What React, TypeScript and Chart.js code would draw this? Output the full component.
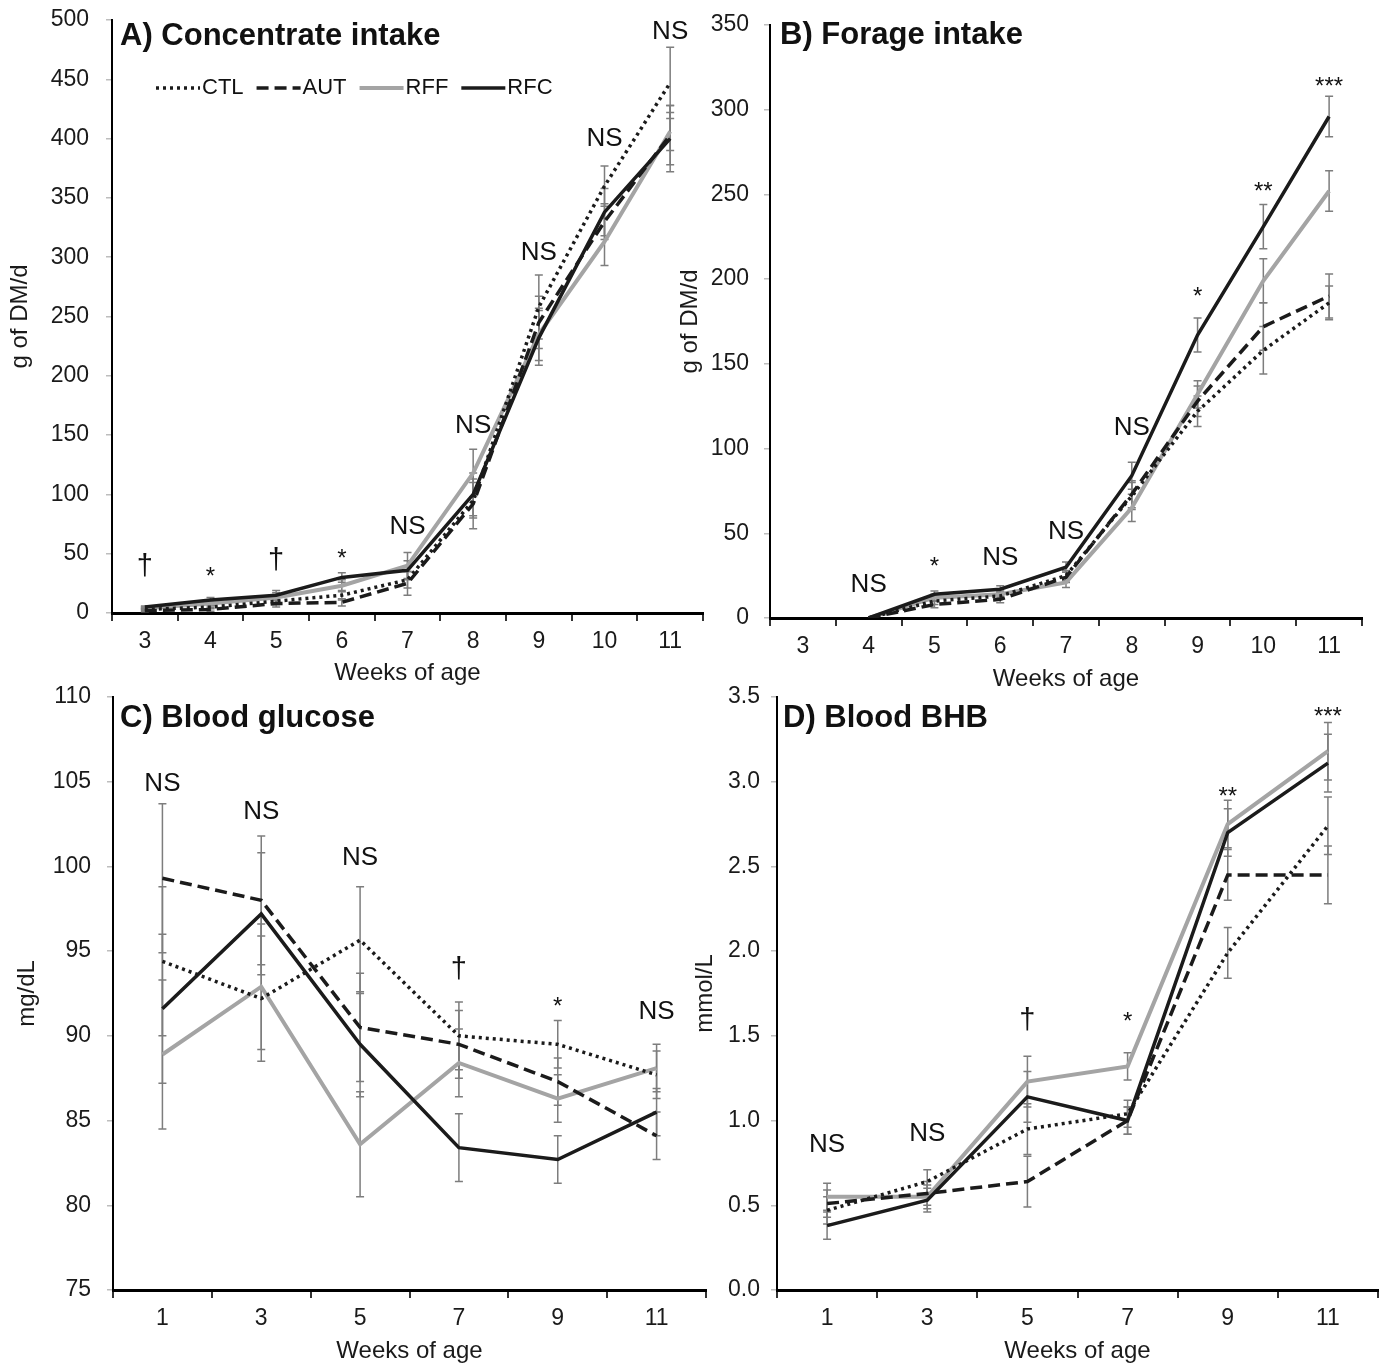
import React, { useEffect, useRef } from 'react';
import { Chart, registerables } from 'chart.js';
Chart.register(...registerables);

const FONT = '"Liberation Sans", Arial, Helvetica, sans-serif';
const seriesNames = ['CTL', 'AUT', 'RFF', 'RFC'];

// ---------- Panel A: Concentrate intake (g of DM/d) ----------
const weeksA = ['3', '4', '5', '6', '7', '8', '9', '10', '11'];
const concCTL = [3, 5, 10, 15, 28, 95, 258, 360, 447];
const concAUT = [2, 3, 8, 9, 25, 92, 245, 330, 403];
const concRFF = [4, 8, 13, 23, 40, 118, 235, 313, 406];
const concRFC = [5, 11, 15, 30, 36, 100, 232, 338, 400];
const concSeCTL = [1, 1.5, 3, 4, 7, 15, 27, 17, 30];
const concSeAUT = [1, 1.5, 3, 3, 10, 21, 22, 15, 25];
const concSeRFF = [1, 2, 4, 5, 11, 20, 22, 20, 16];
const concSeRFC = [1, 2, 4, 4, 8, 18, 23, 20, 28];
const sigA = ['†', '*', '†', '*', 'NS', 'NS', 'NS', 'NS', 'NS'];
const sigAy = [39, 30, 44, 45.5, 72.5, 158, 304, 400, 490];

// ---------- Panel B: Forage intake (g of DM/d) ----------
const weeksB = ['3', '4', '5', '6', '7', '8', '9', '10', '11'];
const forCTL = [null, 0, 10, 13, 25, 72, 122, 158, 186];
const forAUT = [null, 0, 8, 11, 24, 73, 128, 172, 190];
const forRFF = [null, 0, 12, 14, 21, 65, 132, 199, 252];
const forRFC = [null, 0, 14, 17, 30, 84, 167, 231, 296];
const forSeCTL = [0, 0, 2, 2, 3, 8, 9, 14, 10];
const forSeAUT = [0, 0, 2, 2, 3, 8, 9, 14, 13];
const forSeRFF = [0, 0, 2, 2, 3, 8, 8, 13, 12];
const forSeRFC = [0, 0, 2, 2, 3, 8, 10, 13, 12];
const sigB = ['', 'NS', '*', 'NS', 'NS', 'NS', '*', '**', '***'];
const sigBy = [0, 19.5, 30, 35.4, 50.8, 112, 189.5, 251, 313];

// ---------- Panel C: Blood glucose (mg/dL) ----------
const weeksC = ['1', '3', '5', '7', '9', '11'];
const gluCTL = [94.4, 92.2, 95.65, 90.0, 89.5, 87.7];
const gluAUT = [99.3, 98.0, 90.5, 89.5, 87.3, 84.1];
const gluRFF = [88.9, 92.9, 83.6, 88.4, 86.3, 88.1];
const gluRFC = [91.6, 97.2, 89.5, 83.4, 82.7, 85.5];
const gluSeCTL = [4.4, 3.7, 3.15, 2.0, 1.4, 1.4];
const gluSeAUT = [4.4, 3.8, 3.2, 2.0, 1.4, 1.4];
const gluSeRFF = [4.4, 3.7, 3.1, 2.0, 1.4, 1.4];
const gluSeRFC = [4.4, 3.6, 3.1, 2.0, 1.4, 1.4];
const sigC = ['NS', 'NS', 'NS', '†', '*', 'NS'];
const sigCy = [104.87, 103.2, 100.5, 93.9, 91.7, 91.4];

// ---------- Panel D: Blood BHB (mmol/L) ----------
const weeksD = ['1', '3', '5', '7', '9', '11'];
const bhbCTL = [0.47, 0.64, 0.95, 1.04, 1.99, 2.74];
const bhbAUT = [0.51, 0.57, 0.64, 1.0, 2.45, 2.45];
const bhbRFF = [0.55, 0.55, 1.23, 1.32, 2.75, 3.18];
const bhbRFC = [0.38, 0.53, 1.14, 1.0, 2.7, 3.11];
const bhbSeCTL = [0.08, 0.07, 0.15, 0.08, 0.15, 0.17];
const bhbSeAUT = [0.08, 0.07, 0.15, 0.08, 0.15, 0.17];
const bhbSeRFF = [0.08, 0.07, 0.15, 0.08, 0.14, 0.17];
const bhbSeRFC = [0.08, 0.07, 0.15, 0.08, 0.14, 0.17];
const sigD = ['NS', 'NS', '†', '*', '**', '***'];
const sigDy = [0.856, 0.92, 1.59, 1.58, 2.91, 3.38];

const BLACK = '#1b1b1b';
const GRAY = '#a4a4a4';
const seriesStyles = [
  { borderColor: BLACK, borderWidth: 3.5, borderDash: [3, 4], order: 2 },
  { borderColor: BLACK, borderWidth: 3.5, borderDash: [12, 6], order: 1 },
  { borderColor: GRAY, borderWidth: 4, borderDash: [], order: 3 },
  { borderColor: BLACK, borderWidth: 3.5, borderDash: [], order: 0 },
];

type Spec = {
  box: { x: number; y: number; w: number; h: number };
  area: { l: number; t: number; r: number; b: number };
  labels: string[];
  series: (number | null)[][];
  errors: number[][];
  sig: string[];
  sigY: number[];
  min: number; max: number; step: number; decimals: number;
  yTitle: string; yTitlePad: number; yTickPad: number;
  tickSize: number; xTickPad: number; xTitlePad: number;
  title: string; titleDx: number; titleDy: number;
  legend: boolean;
};

function makeOverlay(spec: Spec) {
  return {
    id: 'overlay',
    beforeDatasetsDraw(chart: any) {
      const { ctx, scales } = chart;
      const x = scales.x, y = scales.y;
      ctx.save();
      ctx.strokeStyle = '#7d7d7d';
      ctx.lineWidth = 1.5;
      spec.series.forEach((s, i) => {
        const err = spec.errors[i];
        s.forEach((v, j) => {
          if (v == null || !err[j]) return;
          const px = x.getPixelForValue(j);
          const t = y.getPixelForValue(v + err[j]);
          const b = y.getPixelForValue(v - err[j]);
          ctx.beginPath();
          ctx.moveTo(px, t); ctx.lineTo(px, b);
          ctx.moveTo(px - 4, t); ctx.lineTo(px + 4, t);
          ctx.moveTo(px - 4, b); ctx.lineTo(px + 4, b);
          ctx.stroke();
        });
      });
      ctx.restore();
    },
    afterDatasetsDraw(chart: any) {
      const { ctx, scales, chartArea } = chart;
      const x = scales.x, y = scales.y;
      ctx.save();
      ctx.fillStyle = '#111';
      ctx.textAlign = 'center';
      ctx.textBaseline = 'middle';
      spec.sig.forEach((lab, j) => {
        if (!lab) return;
        const px = x.getPixelForValue(j);
        const py = y.getPixelForValue(spec.sigY[j]);
        let size = 26;
        if (lab === '†') size = 29;
        else if (lab.startsWith('*')) size = 24;
        ctx.font = `${size}px ${FONT}`;
        ctx.fillText(lab, px, py);
      });
      // panel title
      ctx.textAlign = 'left';
      ctx.font = `bold 31px ${FONT}`;
      ctx.fillText(spec.title, chartArea.left + spec.titleDx, chartArea.top + spec.titleDy);
      // legend
      if (spec.legend) {
        const ly = chartArea.top + 68;
        let lx = chartArea.left + 44;
        ctx.font = `22px ${FONT}`;
        seriesNames.forEach((name, i) => {
          const st = seriesStyles[i];
          ctx.save();
          ctx.strokeStyle = st.borderColor;
          ctx.lineWidth = st.borderWidth;
          ctx.setLineDash(st.borderDash);
          ctx.beginPath();
          ctx.moveTo(lx, ly); ctx.lineTo(lx + 44, ly);
          ctx.stroke();
          ctx.restore();
          lx += 46;
          ctx.fillText(name, lx, ly);
          lx += ctx.measureText(name).width + 13;
        });
      }
      ctx.restore();
    },
  };
}

function buildConfig(spec: Spec): any {
  const { box, area } = spec;
  return {
    type: 'line',
    data: {
      labels: spec.labels,
      datasets: spec.series.map((s, i) => ({
        label: seriesNames[i],
        data: s,
        fill: false,
        pointRadius: 0,
        tension: 0,
        ...seriesStyles[i],
      })),
    },
    options: {
      responsive: false,
      animation: false,
      devicePixelRatio: 1,
      layout: { padding: { left: 0, top: area.t - box.y, right: box.x + box.w - area.r, bottom: 0 } },
      plugins: { legend: { display: false }, tooltip: { enabled: false }, title: { display: false } },
      scales: {
        x: {
          type: 'category',
          offset: true,
          grid: { offset: true, drawOnChartArea: false, drawTicks: true, tickLength: 8, color: '#333', lineWidth: 2 },
          border: { color: '#000', width: 3 },
          ticks: { font: { family: FONT, size: spec.tickSize }, color: '#1a1a1a', padding: spec.xTickPad, maxRotation: 0, autoSkip: false },
          title: { display: true, text: 'Weeks of age', font: { family: FONT, size: 24 }, color: '#1a1a1a', padding: { top: 0, bottom: spec.xTitlePad } },
          afterFit(s: any) {
            s.height = box.y + box.h - area.b;
            s.paddingLeft = 0; s.paddingRight = 0;
          },
        },
        y: {
          type: 'linear',
          min: spec.min,
          max: spec.max,
          ticks: {
            stepSize: spec.step,
            font: { family: FONT, size: spec.tickSize },
            color: '#1a1a1a',
            padding: spec.yTickPad,
            callback: (v: any) => Number(v).toFixed(spec.decimals),
          },
          grid: { drawOnChartArea: false, drawTicks: true, tickLength: 6, color: '#bdbdbd', lineWidth: 1.5 },
          border: { color: '#000', width: 2 },
          title: { display: true, text: spec.yTitle, font: { family: FONT, size: 24 }, color: '#1a1a1a', padding: { top: spec.yTitlePad, bottom: 0 } },
          afterFit(s: any) {
            s.width = area.l - box.x;
            s.paddingTop = 0; s.paddingBottom = 0;
          },
        },
      },
    },
    plugins: [makeOverlay(spec)],
  };
}

const specs: Spec[] = [
  {
    box: { x: 0, y: 0, w: 706, h: 690 },
    area: { l: 112, t: 20, r: 703, b: 613 },
    labels: weeksA,
    series: [concCTL, concAUT, concRFF, concRFC],
    errors: [concSeCTL, concSeAUT, concSeRFF, concSeRFC],
    sig: sigA, sigY: sigAy,
    min: 0, max: 500, step: 50, decimals: 0,
    yTitle: 'g of DM/d', yTitlePad: 6, yTickPad: 17,
    tickSize: 23, xTickPad: 7, xTitlePad: 2,
    title: 'A) Concentrate intake', titleDx: 8, titleDy: 16,
    legend: true,
  },
  {
    box: { x: 668, y: 0, w: 718, h: 696 },
    area: { l: 770, t: 25, r: 1362, b: 618 },
    labels: weeksB,
    series: [forCTL, forAUT, forRFF, forRFC],
    errors: [forSeCTL, forSeAUT, forSeRFF, forSeRFC],
    sig: sigB, sigY: sigBy,
    min: 0, max: 350, step: 50, decimals: 0,
    yTitle: 'g of DM/d', yTitlePad: 8, yTickPad: 15,
    tickSize: 23, xTickPad: 7, xTitlePad: 2,
    title: 'B) Forage intake', titleDx: 10, titleDy: 10,
    legend: false,
  },
  {
    box: { x: 0, y: 670, w: 712, h: 696 },
    area: { l: 113, t: 697, r: 706, b: 1290 },
    labels: weeksC,
    series: [gluCTL, gluAUT, gluRFF, gluRFC],
    errors: [gluSeCTL, gluSeAUT, gluSeRFF, gluSeRFC],
    sig: sigC, sigY: sigCy,
    min: 75, max: 110, step: 5, decimals: 0,
    yTitle: 'mg/dL', yTitlePad: 13, yTickPad: 16,
    tickSize: 23, xTickPad: 7, xTitlePad: 0,
    title: 'C) Blood glucose', titleDx: 7, titleDy: 21,
    legend: false,
  },
  {
    box: { x: 683, y: 670, w: 703, h: 696 },
    area: { l: 777, t: 697, r: 1378, b: 1290 },
    labels: weeksD,
    series: [bhbCTL, bhbAUT, bhbRFF, bhbRFC],
    errors: [bhbSeCTL, bhbSeAUT, bhbSeRFF, bhbSeRFC],
    sig: sigD, sigY: sigDy,
    min: 0, max: 3.5, step: 0.5, decimals: 1,
    yTitle: 'mmol/L', yTitlePad: 8, yTickPad: 11,
    tickSize: 23, xTickPad: 7, xTitlePad: 0,
    title: 'D) Blood BHB', titleDx: 6, titleDy: 21,
    legend: false,
  },
];

function Panel({ spec }: { spec: Spec }) {
  const ref = useRef<HTMLCanvasElement | null>(null);
  useEffect(() => {
    if (!ref.current) return;
    const chart = new Chart(ref.current, buildConfig(spec));
    return () => chart.destroy();
  }, [spec]);
  const { x, y, w, h } = spec.box;
  return (
    <div style={{ position: 'absolute', left: x, top: y, width: w, height: h }}>
      <canvas ref={ref} width={w} height={h} style={{ display: 'block', width: w, height: h }} />
    </div>
  );
}

export default function App() {
  return (
    <div style={{ position: 'absolute', left: 0, top: 0, width: 1386, height: 1366, background: '#fff', overflow: 'hidden' }}>
      {specs.map((s, i) => (
        <Panel key={i} spec={s} />
      ))}
    </div>
  );
}
